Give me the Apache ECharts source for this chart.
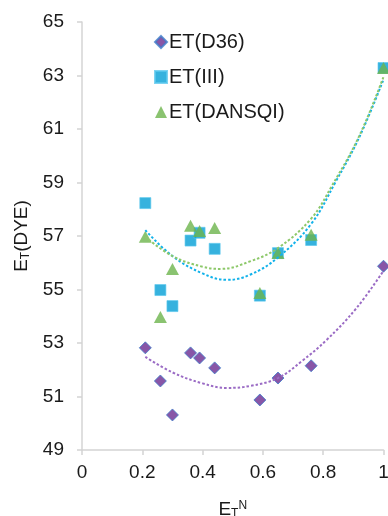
<!DOCTYPE html>
<html>
<head>
<meta charset="utf-8">
<script src="https://cdn.jsdelivr.net/npm/echarts@6/dist/echarts.min.js"></script>
<style>html,body{margin:0;padding:0;background:#fff}#c{width:388px;height:516px}</style>
</head>
<body>
<div id="c"></div>
<script>
// Tick labels
var xTicks = [0, 0.2, 0.4, 0.6, 0.8, 1];
var yTicks = [49, 51, 53, 55, 57, 59, 61, 63, 65];

// Series names
var names = ['ET(D36)', 'ET(III)', 'ET(DANSQI)'];

// ET(N) values (x) shared by all series
var etN = [0.21, 0.26, 0.30, 0.36, 0.39, 0.44, 0.59, 0.65, 0.76, 1.00];

// Measured values
var etD36    = [52.82, 51.58, 50.31, 52.63, 52.44, 52.07, 50.87, 51.69, 52.15, 55.87];
var etIII    = [58.23, 54.98, 54.38, 56.83, 57.12, 56.52, 54.77, 56.36, 56.85, 63.28];
var etDANSQI = [56.97, 53.97, 55.77, 57.38, 57.19, 57.30, 54.87, 56.36, 57.05, 63.28];

// Trendlines
var trendD36X = [0.21, 0.30, 0.40, 0.48, 0.56, 0.65, 0.73, 0.81, 0.91, 1.00];
var trendD36Y = [52.48, 51.90, 51.49, 51.32, 51.40, 51.69, 52.33, 53.10, 54.30, 55.70];
var trendIIIX = [0.21, 0.30, 0.40, 0.48, 0.557, 0.65, 0.76, 0.84, 0.92, 1.00];
var trendIIIY = [57.22, 56.25, 55.60, 55.36, 55.55, 56.20, 57.45, 59.00, 60.70, 62.85];
var trendDANX = [0.21, 0.30, 0.40, 0.46, 0.557, 0.65, 0.76, 0.83, 0.92, 1.00];
var trendDANY = [56.97, 56.25, 55.85, 55.77, 56.05, 56.55, 57.65, 58.90, 60.75, 62.95];

function pairs(xs, ys) { return xs.map(function (x, i) { return [x, ys[i]]; }); }

var chart = echarts.init(document.getElementById('c'), null, {renderer: 'canvas'});
var font = 'Liberation Sans, Arial, sans-serif';
var trendStyle = function (c) { return {color: c, width: 2, type: [2.5, 2]}; };

chart.setOption({
  animation: false,
  backgroundColor: '#ffffff',
  textStyle: {fontFamily: font},
  grid: {left: 82, right: 4.5, top: 22, bottom: 66, outerBoundsMode: 'none', containLabel: false},
  legend: {
    data: names,
    orient: 'vertical',
    left: 149,
    top: 27,
    itemWidth: 12,
    itemHeight: 12,
    itemGap: 15,
    textStyle: {fontFamily: font, fontSize: 20, color: '#1a1a1a', padding: [0, 0, 0, -3]}
  },
  xAxis: {
    type: 'value',
    min: xTicks[0], max: xTicks[xTicks.length - 1], interval: xTicks[1] - xTicks[0],
    splitLine: {show: false},
    axisLine: {onZero: false, lineStyle: {color: '#d4d4d4', width: 1.5}},
    axisTick: {show: true, length: 5, lineStyle: {color: '#d4d4d4', width: 1.5}},
    axisLabel: {fontSize: 19, color: '#1a1a1a', margin: 13, fontFamily: font},
    name: '{e|E}{sub|T}{sup|N}',
    nameLocation: 'middle',
    nameGap: 50,
    nameTextStyle: {
      fontFamily: font,
      rich: {
        e: {fontSize: 19, color: '#1a1a1a', fontFamily: font},
        sub: {fontSize: 12, color: '#1a1a1a', fontFamily: font, padding: [8, 0, 0, 0]},
        sup: {fontSize: 12, color: '#1a1a1a', fontFamily: font, padding: [0, 0, 8, 0]}
      }
    }
  },
  yAxis: {
    type: 'value',
    min: yTicks[0], max: yTicks[yTicks.length - 1], interval: yTicks[1] - yTicks[0],
    splitLine: {show: false},
    axisLine: {show: true, onZero: false, lineStyle: {color: '#d4d4d4', width: 1.5}},
    axisTick: {show: true, length: 5, lineStyle: {color: '#d4d4d4', width: 1.5}},
    axisLabel: {fontSize: 19, color: '#1a1a1a', margin: 18, fontFamily: font},
    name: '{e|E}{sub|T}{e|(DYE)}',
    nameLocation: 'middle',
    nameRotate: 90,
    nameGap: 50,
    nameTextStyle: {
      fontFamily: font,
      rich: {
        e: {fontSize: 19, color: '#1a1a1a', fontFamily: font},
        sub: {fontSize: 12, color: '#1a1a1a', fontFamily: font, padding: [8, 0, 0, 0]}
      }
    }
  },
  series: [
    {
      name: names[0], type: 'scatter', symbol: 'diamond', symbolSize: 12, clip: false, z: 3,
      itemStyle: {color: '#6a2c91', borderColor: '#3d7cc9', borderWidth: 1},
      data: pairs(etN, etD36)
    },
    {
      name: names[1], type: 'scatter', symbol: 'rect', symbolSize: 11, clip: false, z: 3,
      itemStyle: {color: '#049fd6', borderColor: '#5cc8ee', borderWidth: 0.8},
      data: pairs(etN, etIII)
    },
    {
      name: names[2], type: 'scatter', symbol: 'triangle', symbolSize: [13, 12], clip: false, z: 4,
      itemStyle: {color: '#6db44c'},
      data: pairs(etN, etDANSQI)
    },
    {
      name: 'trendD36', type: 'line', smooth: 0.4, showSymbol: false, z: 5, silent: true,
      lineStyle: trendStyle('#9b6cc5'), data: pairs(trendD36X, trendD36Y)
    },
    {
      name: 'trendIII', type: 'line', smooth: 0.4, showSymbol: false, z: 5, silent: true,
      lineStyle: trendStyle('#12b2ea'), data: pairs(trendIIIX, trendIIIY)
    },
    {
      name: 'trendDAN', type: 'line', smooth: 0.4, showSymbol: false, z: 5, silent: true,
      lineStyle: trendStyle('#8dc86a'), data: pairs(trendDANX, trendDANY)
    }
  ]
});
</script>
</body>
</html>
